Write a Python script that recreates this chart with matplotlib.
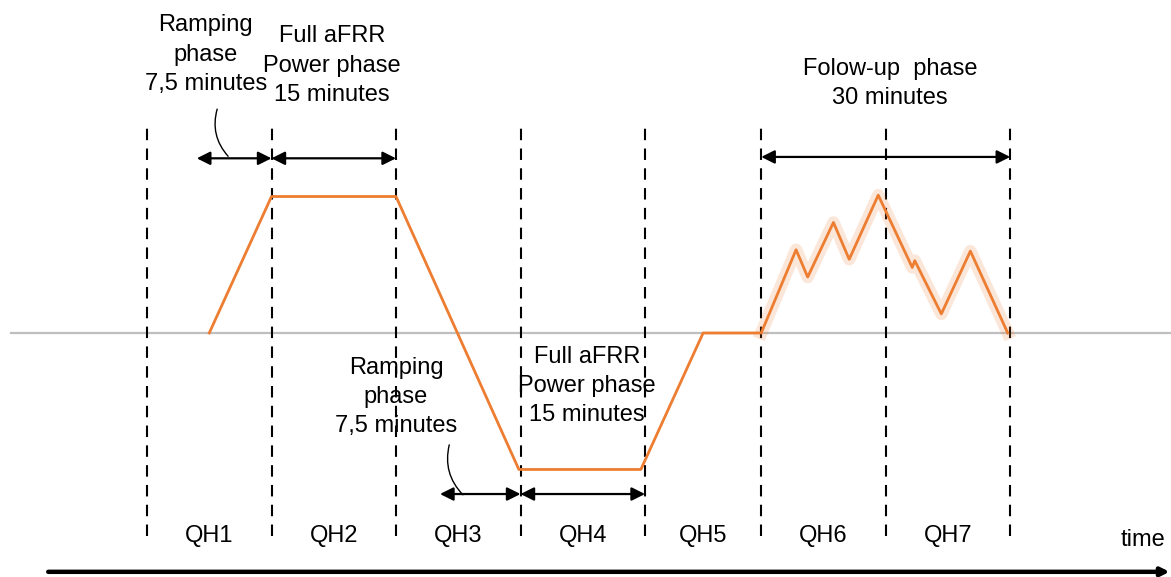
import matplotlib
matplotlib.use("Agg")
import matplotlib.pyplot as plt

plt.rcParams['font.family'] = ['Liberation Sans', 'DejaVu Sans']

# quarter-hour boundaries (minutes)
qh_edges = [0, 15, 30, 45, 60, 74, 89, 104]
qh_labels = ["QH1", "QH2", "QH3", "QH4", "QH5", "QH6", "QH7"]

# aFRR power profile (minutes, normalised power)
t_min = [7.5, 15, 30, 44.8, 59.5, 67, 74, 78.2, 79.6, 82.7, 84.6, 88.1,
         92.2, 92.5, 95.7, 99.2, 103.7]
power = [0, 1, 1, -1, -1, 0, 0, 0.61, 0.41, 0.81, 0.54, 1.01,
         0.48, 0.53, 0.14, 0.60, 0]
follow_start = 6  # index where follow-up phase begins

# phase arrows: (start, end, level)
phase_arrows = [(6.0, 15, 1.28), (15, 30, 1.28), (74, 104, 1.29),
                (35.3, 45, -1.18), (45, 60, -1.18)]

orange = "#ED7D31"

fig = plt.figure(figsize=(11.71, 5.77), dpi=100)
ax = fig.add_axes([0, 0, 1, 1])
ax.set_xlim(-17.71, 123.37)
ax.set_ylim(-1.788, 2.44)
ax.axis("off")

# zero line
ax.axhline(0, xmin=0.009, xmax=1, color="#BFBFBF", lw=1.6, zorder=1)

# dashed QH boundaries
for e in qh_edges:
    ax.plot([e, e], [-1.49, 1.52], color="black", lw=1.5,
            dashes=(5.5, 4), zorder=2)

# power curve with soft glow in follow-up phase
ax.plot(t_min[follow_start:], power[follow_start:], color=orange, lw=9,
        alpha=0.18, zorder=3)
ax.plot(t_min, power, color=orange, lw=2, zorder=4)

# phase arrows
for a, b, y in phase_arrows:
    ax.annotate("", xy=(b, y), xytext=(a, y),
                arrowprops=dict(arrowstyle="<|-|>", color="black", lw=1.6,
                                mutation_scale=20, shrinkA=0, shrinkB=0))

# leader curves from ramp labels
ax.annotate("", xy=(8.55, 1.66), xytext=(10.0, 1.28),
            arrowprops=dict(arrowstyle="-", color="black", lw=1.0,
                            connectionstyle="arc3,rad=-0.3"))
ax.annotate("", xy=(36.5, -0.80), xytext=(38.3, -1.20),
            arrowprops=dict(arrowstyle="-", color="black", lw=1.0,
                            connectionstyle="arc3,rad=-0.3"))

fs = 17
ls = 1.42
ax.text(7.1, 2.04, "Ramping\nphase\n7,5 minutes", ha="center", va="center",
        fontsize=fs, linespacing=ls)
ax.text(22.3, 1.96, "Full aFRR\nPower phase\n15 minutes", ha="center",
        va="center", fontsize=fs, linespacing=ls)
ax.text(89.5, 1.83, "Folow-up  phase\n30 minutes", ha="center", va="center",
        fontsize=fs, linespacing=ls)
ax.text(30.0, -0.47, "Ramping\nphase\n7,5 minutes", ha="center", va="center",
        fontsize=fs, linespacing=ls)
ax.text(53.0, -0.39, "Full aFRR\nPower phase\n15 minutes", ha="center",
        va="center", fontsize=fs, linespacing=ls)

for i, lab in enumerate(qh_labels):
    mid = (qh_edges[i] + qh_edges[i + 1]) / 2
    ax.text(mid, -1.49, lab, ha="center", va="center", fontsize=fs)

ax.text(120.0, -1.52, "time", ha="center", va="center", fontsize=fs)

# time axis
ax.annotate("", xy=(123.2, -1.75), xytext=(-11.9, -1.75),
            arrowprops=dict(arrowstyle="-|>", color="black", lw=3.2,
                            mutation_scale=12, shrinkA=0, shrinkB=0))

fig.savefig("out.png", dpi=100)
